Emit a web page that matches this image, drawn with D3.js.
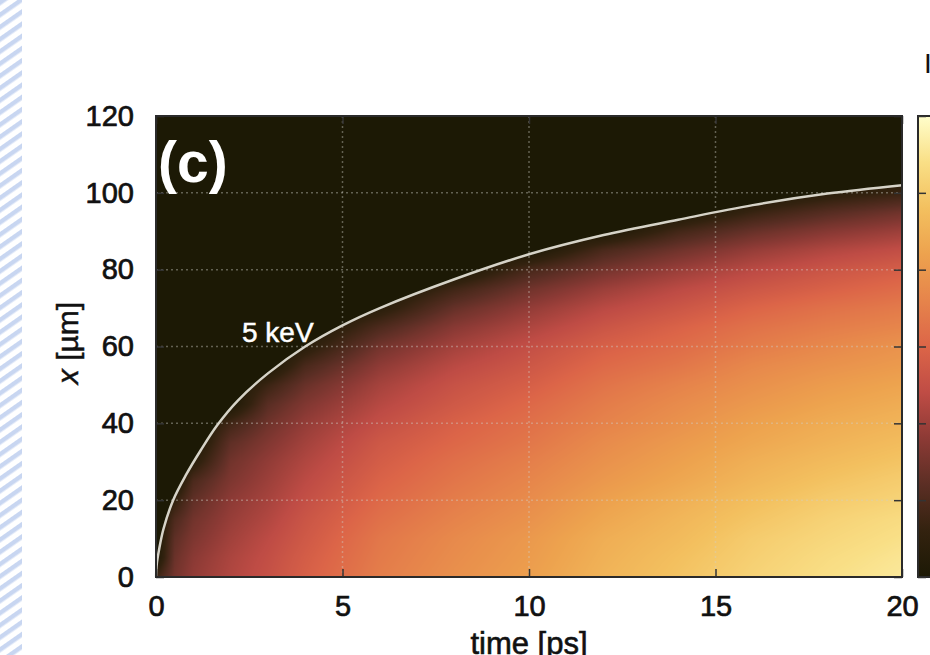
<!DOCTYPE html>
<html>
<head>
<meta charset="utf-8">
<script src="https://cdn.jsdelivr.net/npm/d3@7"></script>
<style>
  body { margin: 0; background: white; }
  svg { display: block; font-family: "Liberation Sans", Arial, sans-serif; }
</style>
</head>
<body>
<div id="container"></div>
<script>
let w = 930;
let h = 655;

// axis ticks
let timeTicks = [0, 5, 10, 15, 20];
let depthTicks = [0, 20, 40, 60, 80, 100, 120];

// 5 keV front
let frontTime = [0, 0.02, 0.08, 0.2, 0.46, 0.8, 1.2, 1.64, 2.2, 3, 4, 5, 6, 8, 10, 12, 14, 16, 18, 20];
let frontDepth = [0, 3.3, 7, 12.5, 20, 26.5, 33, 39.5, 46, 53, 60, 65.5, 70, 77.5, 84, 89, 93, 96.8, 99.8, 102];

// heat map: one profile per time column, values from x = 0 upward in 5 um steps (0 = dark, 1 = pale)
let gridTime = [0, 0.5, 1, 2, 3, 4, 6, 8, 10, 12, 14, 16, 18, 20];
let gridDepth = [0, 5, 10, 15, 20, 25, 30, 35, 40, 45, 50, 55, 60, 65, 70, 75, 80, 85, 90, 95, 100, 105, 110, 115, 120];
let profiles = [
  [0.12],
  [0.25, 0.23, 0.205, 0.165, 0.09],
  [0.31, 0.295, 0.27, 0.245, 0.21, 0.16, 0.06],
  [0.37, 0.36, 0.34, 0.32, 0.30, 0.27, 0.245, 0.205, 0.135],
  [0.42, 0.41, 0.394, 0.372, 0.351, 0.33, 0.309, 0.277, 0.24, 0.192, 0.118],
  [0.48, 0.469, 0.452, 0.436, 0.414, 0.392, 0.369, 0.342, 0.314, 0.275, 0.226, 0.154, 0.06],
  [0.58, 0.569, 0.558, 0.536, 0.513, 0.491, 0.469, 0.447, 0.414, 0.381, 0.348, 0.303, 0.248, 0.165, 0.06],
  [0.64, 0.629, 0.618, 0.597, 0.576, 0.554, 0.533, 0.506, 0.484, 0.452, 0.425, 0.388, 0.345, 0.291, 0.221, 0.13],
  [0.69, 0.679, 0.669, 0.647, 0.626, 0.605, 0.583, 0.557, 0.535, 0.509, 0.477, 0.444, 0.412, 0.364, 0.311, 0.242, 0.151],
  [0.76, 0.749, 0.738, 0.716, 0.694, 0.667, 0.645, 0.623, 0.596, 0.574, 0.547, 0.514, 0.481, 0.437, 0.388, 0.328, 0.251, 0.158],
  [0.81, 0.799, 0.782, 0.766, 0.744, 0.716, 0.694, 0.672, 0.645, 0.623, 0.595, 0.556, 0.523, 0.49, 0.441, 0.391, 0.325, 0.242, 0.137],
  [0.86, 0.849, 0.838, 0.816, 0.794, 0.767, 0.745, 0.718, 0.696, 0.668, 0.641, 0.613, 0.575, 0.542, 0.498, 0.444, 0.389, 0.318, 0.224, 0.109],
  [0.90, 0.889, 0.873, 0.857, 0.835, 0.808, 0.782, 0.755, 0.733, 0.706, 0.679, 0.647, 0.615, 0.577, 0.539, 0.485, 0.437, 0.372, 0.286, 0.184, 0.06],
  [0.93, 0.919, 0.904, 0.888, 0.861, 0.84, 0.813, 0.787, 0.76, 0.734, 0.707, 0.675, 0.649, 0.606, 0.569, 0.522, 0.474, 0.41, 0.331, 0.24, 0.113]
];

// colour map (dark -> pale)
let cmapPos = [0, 0.1, 0.2, 0.3, 0.4, 0.5, 0.6, 0.7, 0.8, 0.9, 1];
let cmapColors = ["#1c1905", "#33220f", "#5b2e24", "#8c3a35", "#bf4c45", "#dc6548", "#e6844b", "#eda24e", "#f3c05f", "#f9df86", "#fffecb"];

let viz = d3.select("#container")
  .append("svg")
    .attr("width", w)
    .attr("height", h)
    .style("background-color", "white")
;

let defs = viz.append("defs");

// hatched strip at the left edge
let pat = defs.append("pattern")
    .attr("id", "stripes")
    .attr("patternUnits", "userSpaceOnUse")
    .attr("width", 10)
    .attr("height", 10)
    .attr("patternTransform", "rotate(-35)");
pat.append("rect").attr("width", 10).attr("height", 4.5).attr("fill", "#c8d6f1");
viz.append("rect").attr("x", 0).attr("y", 0).attr("width", 22).attr("height", h).attr("fill", "url(#stripes)");

let xScale = d3.scaleLinear().domain([0, 20]).range([156, 902]);
let yScale = d3.scaleLinear().domain([0, 120]).range([577, 116]);

let colorScale = d3.scaleLinear().domain(cmapPos).range(cmapColors).interpolate(d3.interpolateRgb).clamp(true);

let plotX = xScale(0), plotY = yScale(120);
let plotW = xScale(20) - xScale(0), plotH = yScale(0) - yScale(120);

// background (above the front)
viz.append("rect")
    .attr("x", plotX).attr("y", plotY)
    .attr("width", plotW).attr("height", plotH)
    .attr("fill", colorScale(0));

// column scales along depth
let columnScales = profiles.map(function(vals) {
  let n = vals.length;
  return d3.scaleLinear()
    .domain(gridDepth.slice(0, n).concat([gridDepth[n]]))
    .range(vals.concat([0]))
    .clamp(true);
});

// lookup table for colours
let lut = d3.range(512).map(function(i) { return d3.color(colorScale(i / 511)); });

let cw = Math.round(plotW), ch = Math.round(plotH);
let canvas = document.createElement("canvas");
canvas.width = cw;
canvas.height = ch;
let ctx = canvas.getContext("2d");
let img = ctx.createImageData(cw, ch);

// column values for every pixel row
let colRows = columnScales.map(function(s) {
  return d3.range(ch).map(function(py) { return s(yScale.invert(plotY + py + 0.5)); });
});

for (let px = 0; px < cw; px++) {
  let t = xScale.invert(plotX + px + 0.5);
  let i = Math.max(0, Math.min(gridTime.length - 2, d3.bisectRight(gridTime, t) - 1));
  let f = (t - gridTime[i]) / (gridTime[i + 1] - gridTime[i]);
  f = Math.max(0, Math.min(1, f));
  for (let py = 0; py < ch; py++) {
    let v = colRows[i][py] * (1 - f) + colRows[i + 1][py] * f;
    let c = lut[Math.round(Math.max(0, Math.min(1, v)) * 511)];
    let k = (py * cw + px) * 4;
    img.data[k] = c.r;
    img.data[k + 1] = c.g;
    img.data[k + 2] = c.b;
    img.data[k + 3] = 255;
  }
}
ctx.putImageData(img, 0, 0);

let frontData = frontTime.map(function(t, i) { return { t: t, x: frontDepth[i] }; });
let frontCurve = d3.curveCatmullRom.alpha(0.5);

defs.append("clipPath").attr("id", "belowFront")
  .append("path")
    .datum(frontData)
    .attr("d", d3.area()
      .x(function(d) { return xScale(d.t); })
      .y0(yScale(0) + 2)
      .y1(function(d) { return yScale(d.x); })
      .curve(frontCurve));

viz.append("image")
    .attr("x", plotX).attr("y", plotY)
    .attr("width", cw).attr("height", ch)
    .attr("preserveAspectRatio", "none")
    .attr("href", canvas.toDataURL())
    .attr("clip-path", "url(#belowFront)");

// dotted grid
let gridGroup = viz.append("g").attr("class", "grid")
    .attr("stroke", "#d0d0c8")
    .attr("stroke-opacity", 0.4)
    .attr("stroke-width", 1.5)
    .attr("stroke-dasharray", "2,3");
gridGroup.selectAll(".gv").data(timeTicks.slice(1, -1)).enter()
  .append("line")
    .attr("x1", function(d) { return xScale(d); })
    .attr("x2", function(d) { return xScale(d); })
    .attr("y1", plotY).attr("y2", plotY + plotH);
gridGroup.selectAll(".gh").data(depthTicks.slice(1, -1)).enter()
  .append("line")
    .attr("y1", function(d) { return yScale(d); })
    .attr("y2", function(d) { return yScale(d); })
    .attr("x1", plotX).attr("x2", plotX + plotW);

// 5 keV line
viz.append("path")
    .datum(frontData)
    .attr("fill", "none")
    .attr("stroke", "#d6d3c8")
    .attr("stroke-width", 2.5)
    .attr("d", d3.line()
      .x(function(d) { return xScale(d.t); })
      .y(function(d) { return yScale(d.x); })
      .curve(frontCurve));

// axes
let xAxisGroup = viz.append("g")
    .attr("class", "xaxis")
    .attr("transform", "translate(0," + yScale(0) + ")")
    .call(d3.axisBottom(xScale).tickValues(timeTicks).tickSize(-8).tickPadding(18).tickFormat(d3.format("d")));
let yAxisGroup = viz.append("g")
    .attr("class", "yaxis")
    .attr("transform", "translate(" + xScale(0) + ",0)")
    .call(d3.axisLeft(yScale).tickValues(depthTicks).tickSize(-8).tickPadding(22).tickFormat(d3.format("d")));
let rightTicks = viz.append("g")
    .attr("transform", "translate(" + xScale(20) + ",0)")
    .call(d3.axisRight(yScale).tickValues(depthTicks).tickSize(-8).tickFormat(""));
let topTicks = viz.append("g")
    .attr("transform", "translate(0," + yScale(120) + ")")
    .call(d3.axisTop(xScale).tickValues(timeTicks).tickSize(-8).tickFormat(""));

viz.selectAll(".xaxis, .yaxis").selectAll("text")
    .attr("font-size", 29)
    .attr("fill", "#111")
    .attr("stroke", "#111")
    .attr("stroke-width", 0.7);
viz.selectAll("g").selectAll(".domain").remove();
viz.selectAll(".tick line").attr("stroke", "#333").attr("stroke-width", 1.5);

// frame
viz.append("rect")
    .attr("x", plotX).attr("y", plotY)
    .attr("width", plotW).attr("height", plotH)
    .attr("fill", "none")
    .attr("stroke", "#2a2a2a")
    .attr("stroke-width", 2);

// labels
viz.append("text")
    .attr("x", 158).attr("y", 182)
    .attr("fill", "white")
    .attr("font-weight", "bold")
    .attr("font-size", 57)
    .text("(c)");

viz.append("text")
    .attr("x", 242).attr("y", 342)
    .attr("fill", "white")
    .attr("stroke", "white")
    .attr("stroke-width", 0.5)
    .attr("font-size", 28)
    .text("5 keV");

let yLabel = viz.append("text")
    .attr("transform", "translate(78,343) rotate(-90)")
    .attr("text-anchor", "middle")
    .attr("font-size", 30)
    .attr("fill", "#111")
    .attr("stroke", "#111")
    .attr("stroke-width", 0.5);
yLabel.append("tspan").attr("font-style", "italic").text("x");
yLabel.append("tspan").text(" [µm]");

viz.append("text")
    .attr("x", 529).attr("y", 654)
    .attr("text-anchor", "middle")
    .attr("font-size", 31)
    .attr("fill", "#111")
    .attr("stroke", "#111")
    .attr("stroke-width", 0.6)
    .text("time [ps]");

// colour bar
let grad = defs.append("linearGradient")
    .attr("id", "cbar")
    .attr("x1", 0).attr("y1", 1).attr("x2", 0).attr("y2", 0);
grad.selectAll("stop").data(cmapPos).enter()
  .append("stop")
    .attr("offset", function(d) { return d; })
    .attr("stop-color", function(d, i) { return cmapColors[i]; });

viz.append("rect")
    .attr("x", 918).attr("y", plotY)
    .attr("width", 30).attr("height", plotH)
    .attr("fill", "url(#cbar)")
    .attr("stroke", "#2a2a2a")
    .attr("stroke-width", 2);

let cbarScale = d3.scaleLinear().domain([0, 6]).range([yScale(0), yScale(120)]);
viz.append("g")
    .attr("transform", "translate(918,0)")
    .call(d3.axisLeft(cbarScale).ticks(6).tickSize(-8).tickFormat(""))
    .call(function(g) { g.select(".domain").remove(); })
    .selectAll("line").attr("stroke", "#333").attr("stroke-width", 1.5);

viz.append("text")
    .attr("x", 924).attr("y", 73)
    .attr("font-size", 28)
    .attr("fill", "#111")
    .text("I");
</script>
</body>
</html>
